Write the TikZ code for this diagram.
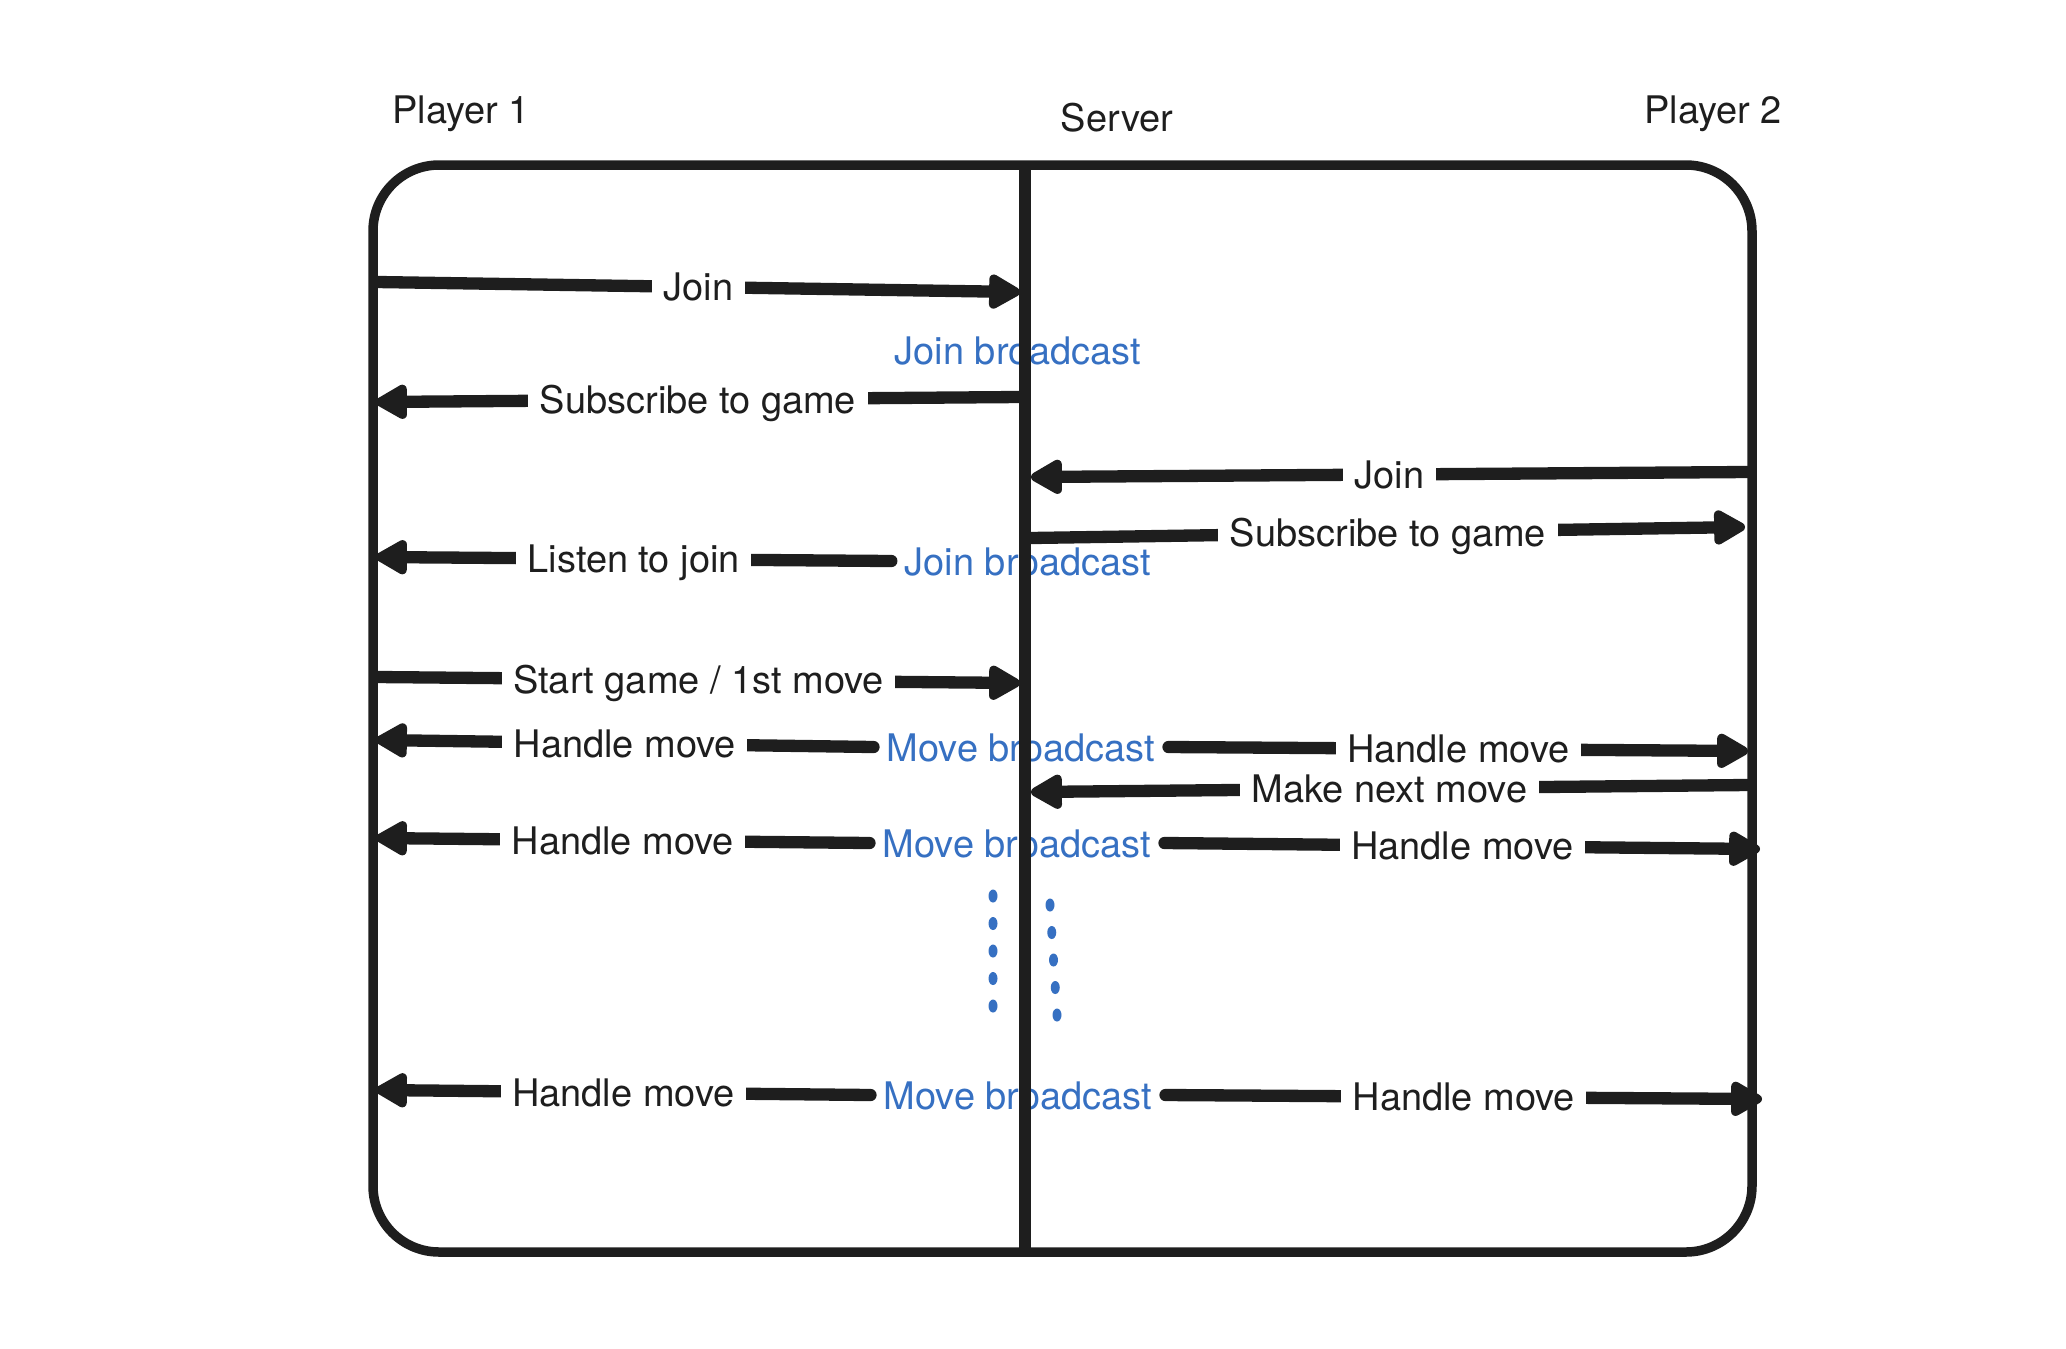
\documentclass[tikz,border=0pt]{standalone}
\usepackage{fontspec}
\setmainfont{TeX Gyre Heros}
\usetikzlibrary{arrows.meta}
\definecolor{SketchInk}{HTML}{1E1E1E}
\definecolor{SketchBlue}{HTML}{3670C2}

\begin{document}
\begin{tikzpicture}[
    font=\fontsize{10.8pt}{13pt}\selectfont,
    x=0.01cm,
    y=-0.01cm,
    title/.style={text=SketchInk, text height=0.9em, text depth=0.1em, inner sep=0pt},
    frame/.style={draw=SketchInk, line width=2.7pt, rounded corners=0.66cm},
    lifeline/.style={draw=SketchInk, line width=3.6pt},
    msg/.style={-{Triangle[length=3.6mm,width=3.8mm,round]}, line width=3.5pt, line cap=round, color=SketchInk},
    lbl/.style={fill=white, text=SketchInk, inner xsep=3.3pt, inner ysep=0pt, text height=0.72em, text depth=0.22em, yshift=-0.14em},
    bcast/.style={text=SketchBlue, inner sep=3.6pt, text height=0.9em, text depth=0.1em},
    dotmark/.style={fill=SketchBlue}
  ]
    \useasboundingbox (0,0) rectangle (2066,1348);

    % lifeline titles
    \node[title] (player1) at (461,109) {Player 1};
    \node[title] (server) at (1117,117) {Server};
    \node[title] (player2) at (1713,109) {Player 2};

    % outer frame and server line
    \draw[frame] (373,165) rectangle (1752,1252);
    \coordinate (srvtop) at (1025,165);
    \coordinate (srvbot) at (1025,1252);

    % broadcasts on the server
    \node[bcast] (joinbc1) at (1018,350) {Join broadcast};
    \node[bcast] (joinbc2) at (1028,561) {Join broadcast};
    \node[bcast] (movebc1) at (1021,747) {Move broadcast};
    \node[bcast] (movebc2) at (1017,843) {Move broadcast};
    \node[bcast] (movebc3) at (1018,1095) {Move broadcast};

    \draw[lifeline] (srvtop) -- (srvbot);

    % message end points
    \coordinate (p1join) at (377,282);
    \coordinate (srvjoin1) at (1020,292);
    \coordinate (srvsub1) at (1020,397);
    \coordinate (p1sub) at (376,402);
    \coordinate (p2join) at (1748,472);
    \coordinate (srvjoin2) at (1031,477);
    \coordinate (srvsub2) at (1031,538);
    \coordinate (p2sub) at (1745,527);
    \coordinate (p1listen) at (376,557);
    \coordinate (p1start) at (377,677);
    \coordinate (srvstart) at (1020,683);
    \coordinate (p1move1) at (376,740);
    \coordinate (p2move1) at (1748,751);
    \coordinate (p2next) at (1748,785);
    \coordinate (srvnext) at (1031,792);
    \coordinate (p1move2) at (376,838);
    \coordinate (p2move2) at (1760,849);
    \coordinate (p1move3) at (376,1090);
    \coordinate (p2move3) at (1762,1099);

    % messages
    \draw[msg] (p1join) -- node[lbl]{Join} (srvjoin1);
    \draw[msg] (srvsub1) -- node[lbl]{Subscribe to game} (p1sub);
    \draw[msg] (p2join) -- node[lbl]{Join} (srvjoin2);
    \draw[msg] (srvsub2) -- node[lbl]{Subscribe to game} (p2sub);
    \draw[msg] (joinbc2.west) -- node[lbl]{Listen to join} (p1listen);
    \draw[msg] (p1start) -- node[lbl]{Start game / 1st move} (srvstart);
    \draw[msg] (movebc1.west) -- node[lbl]{Handle move} (p1move1);
    \draw[msg] (movebc1.east) -- node[lbl]{Handle move} (p2move1);
    \draw[msg] (p2next) -- node[lbl]{Make next move} (srvnext);
    \draw[msg] (movebc2.west) -- node[lbl]{Handle move} (p1move2);
    \draw[msg] (movebc2.east) -- node[lbl]{Handle move} (p2move2);
    \draw[msg] (movebc3.west) -- node[lbl]{Handle move} (p1move3);
    \draw[msg] (movebc3.east) -- node[lbl]{Handle move} (p2move3);

    % more moves
    \foreach \k in {0,...,4} {
      \fill[dotmark] (993,{896+27.5*\k}) ellipse [x radius=0.045cm, y radius=0.065cm];
      \fill[dotmark] ({1050+1.75*\k},{905+27.5*\k}) ellipse [x radius=0.045cm, y radius=0.065cm];
    }
  \end{tikzpicture}
\end{document}
